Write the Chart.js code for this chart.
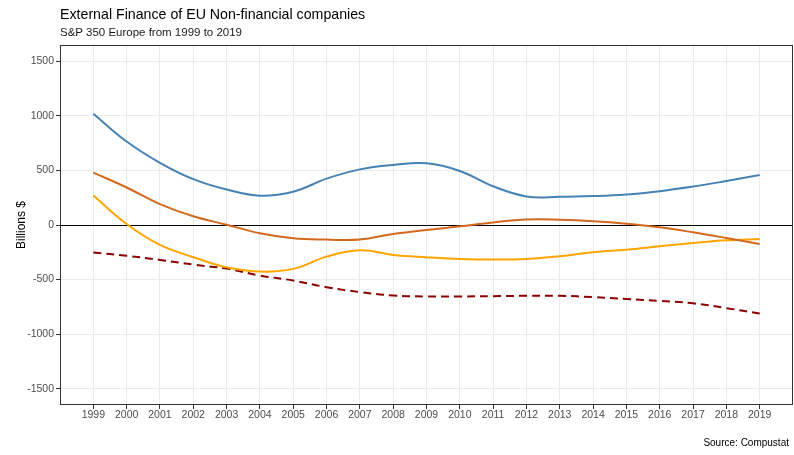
<!DOCTYPE html>
<html>
<head>
<meta charset="utf-8">
<script src="https://cdn.jsdelivr.net/npm/chart.js@4"></script>
<style>
  html, body { margin: 0; padding: 0; background: #fff; }
  #wrap { position: relative; width: 794px; height: 455px; font-family: 'Liberation Sans', Arial, sans-serif; }
  #title { position: absolute; left: 60px; top: 6px; font-size: 14.2px; color: #000; }
  #subtitle { position: absolute; left: 60px; top: 26px; font-size: 11.5px; color: #1a1a1a; }
  #caption { position: absolute; right: 5px; top: 437px; font-size: 10px; color: #000; }
  canvas { position: absolute; left: 0; top: 0; }
</style>
</head>
<body>
<div id="wrap">
  <canvas id="chart" width="794" height="455"></canvas>
  <div id="title">External Finance of EU Non-financial companies</div>
  <div id="subtitle">S&amp;P 350 Europe from 1999 to 2019</div>
  <div id="caption">Source: Compustat</div>
</div>
<script>
const years = [1999, 2000, 2001, 2002, 2003, 2004, 2005, 2006, 2007, 2008, 2009,
               2010, 2011, 2012, 2013, 2014, 2015, 2016, 2017, 2018, 2019];

// billions $
const blueSeries   = [1020, 765, 570, 420, 325, 268, 305, 425, 510, 550, 565,
                      495, 355, 262, 258, 265, 280, 310, 352, 403, 458];
const orangeSeries = [480, 344, 192, 80, 3, -76, -122, -134, -134, -82, -46,
                      -12, 24, 50, 48, 35, 12, -21, -67, -119, -174];
const amberSeries  = [271, 9, -183, -295, -387, -427, -402, -290, -232, -274, -295,
                      -311, -317, -311, -286, -250, -226, -195, -165, -140, -128];
const debtSeries   = [-252, -282, -320, -363, -400, -463, -509, -570, -615, -646, -655,
                      -655, -652, -649, -649, -661, -679, -695, -718, -762, -811];

const yTicks = [-1500, -1000, -500, 0, 500, 1000, 1500];

const toPoints = arr => arr.map((v, i) => ({ x: years[i], y: v }));

const line = (data, color, dash) => ({
  data: toPoints(data),
  borderColor: color,
  borderWidth: 2,
  borderDash: dash || [],
  pointRadius: 0,
  fill: false,
  tension: 0.4,
});

const panelBorder = {
  id: 'panelBorder',
  afterDraw(chart) {
    const { ctx, chartArea: a } = chart;
    ctx.save();
    ctx.strokeStyle = '#333333';
    ctx.lineWidth = 1;
    ctx.strokeRect(a.left + 0.5, a.top + 0.5, a.right - a.left - 1, a.bottom - a.top - 1);
    ctx.restore();
  },
};

const tickFont = { size: 10.5, family: "'Liberation Sans', Arial, sans-serif" };

new Chart(document.getElementById('chart'), {
  type: 'line',
  data: {
    datasets: [
      line(blueSeries, '#4682B4'),
      line(orangeSeries, '#D2691E'),
      line(amberSeries, '#FFA500'),
      line(debtSeries, '#8B0000', [8, 5]),
    ],
  },
  plugins: [panelBorder],
  options: {
    animation: false,
    responsive: false,
    layout: { padding: { top: 45, right: 1, left: 0, bottom: 0 } },
    plugins: {
      legend:  { display: false },
      tooltip: { enabled: false },
    },
    scales: {
      x: {
        type: 'linear',
        min: 1998,
        max: 2020,
        afterBuildTicks: s => { s.ticks = years.map(v => ({ value: v })); },
        afterFit: s => { s.height = 50; },
        ticks: { color: '#4D4D4D', font: tickFont, padding: 0, maxRotation: 0, autoSkip: false,
                 callback: v => String(v) },
        grid:  { color: '#EBEBEB', tickColor: '#333333', tickLength: 4 },
        border:{ display: false },
      },
      y: {
        min: -1650,
        max: 1650,
        afterBuildTicks: s => { s.ticks = yTicks.map(v => ({ value: v })); },
        afterFit: s => { s.width = 60; },
        title: { display: true, text: 'Billions $', color: '#000', padding: { top: 14, bottom: 0 },
                 font: { size: 12, family: "'Liberation Sans', Arial, sans-serif" } },
        ticks: { color: '#4D4D4D', font: tickFont, padding: 2, callback: v => String(v) },
        grid:  { color: c => c.tick && c.tick.value === 0 ? '#000000' : '#EBEBEB',
                 tickColor: '#333333', tickLength: 4 },
        border:{ display: false },
      },
    },
  },
});
</script>
</body>
</html>
